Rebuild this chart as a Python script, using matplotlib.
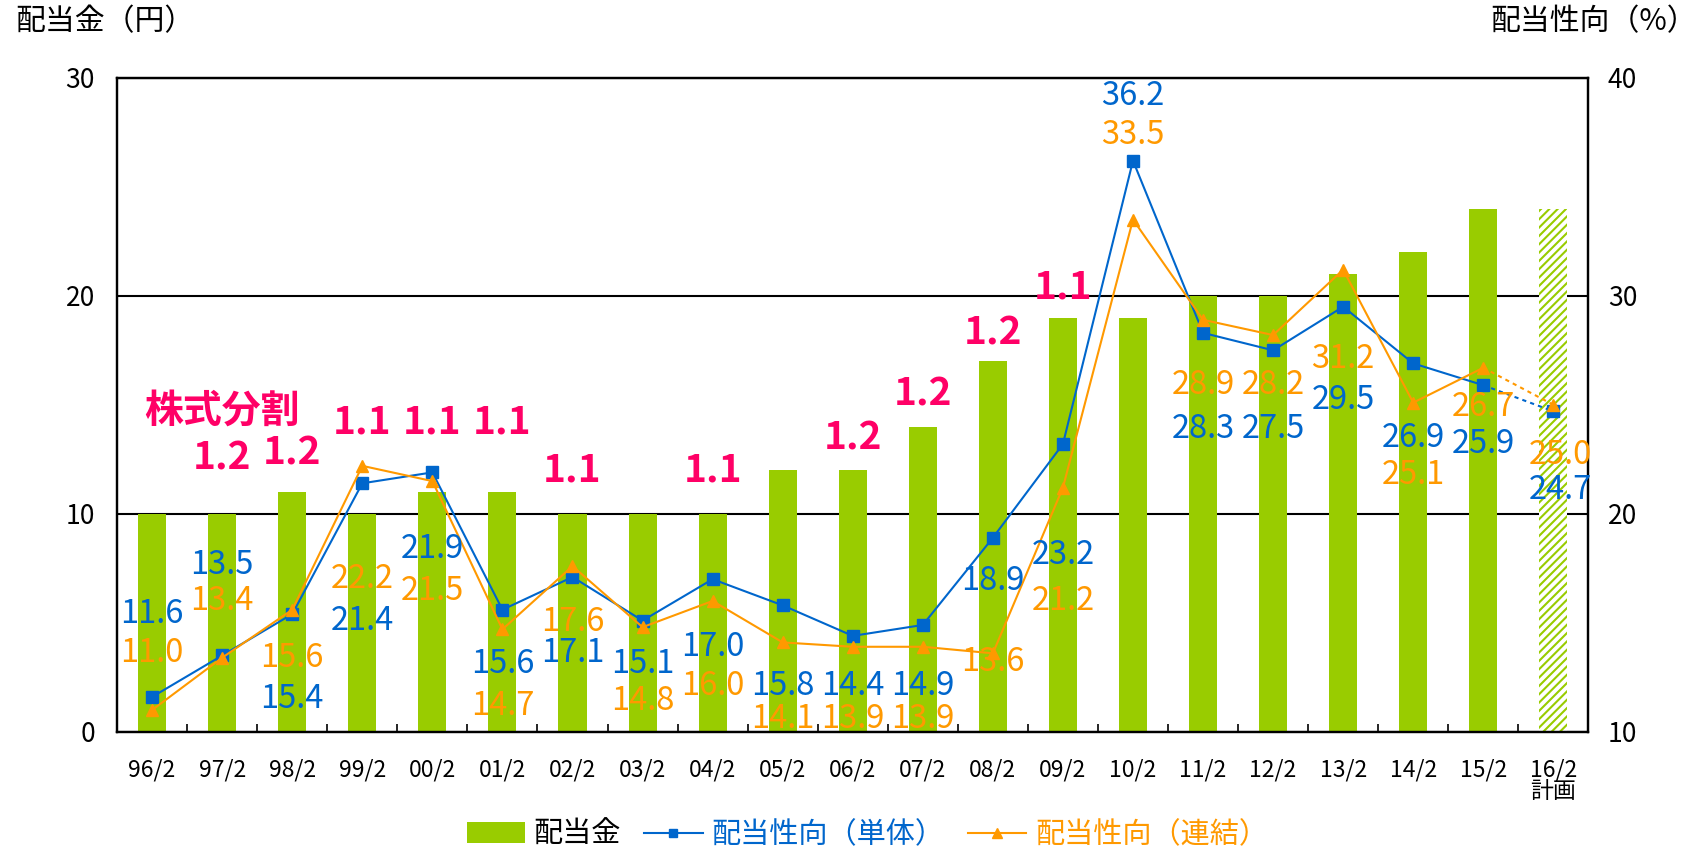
import numpy as np
import matplotlib
matplotlib.use('Agg')
import matplotlib.pyplot as plt
from matplotlib.patches import Patch
from matplotlib.lines import Line2D

plt.rcParams['font.family'] = ['Noto Sans CJK JP', 'DejaVu Sans']
plt.rcParams['hatch.linewidth'] = 1.5

# data
years = ['96/2', '97/2', '98/2', '99/2', '00/2', '01/2', '02/2', '03/2', '04/2', '05/2', '06/2',
         '07/2', '08/2', '09/2', '10/2', '11/2', '12/2', '13/2', '14/2', '15/2', '16/2\n計画']
dividend = [10, 10, 11, 10, 11, 11, 10, 10, 10, 12, 12, 14, 17, 19, 19, 20, 20, 21, 22, 24, 24]
payout_single = [11.6, 13.5, 15.4, 21.4, 21.9, 15.6, 17.1, 15.1, 17.0, 15.8, 14.4,
                 14.9, 18.9, 23.2, 36.2, 28.3, 27.5, 29.5, 26.9, 25.9, 24.7]
payout_consol = [11.0, 13.4, 15.6, 22.2, 21.5, 14.7, 17.6, 14.8, 16.0, 14.1, 13.9,
                 13.9, 13.6, 21.2, 33.5, 28.9, 28.2, 31.2, 25.1, 26.7, 25.0]
split_ratio = [None, 1.2, 1.2, 1.1, 1.1, 1.1, 1.1, None, 1.1, None, 1.2,
               1.2, 1.2, 1.1, None, None, None, None, None, None, None]

# label placement (right axis units for payout, left axis units for split)
single_lab_y = [15.4, 17.65, 11.5, 15.1, 18.4, 13.1, 13.6, 13.1, 13.9, 12.1, 12.1,
                12.1, 16.9, 18.1, 39.15, 23.9, 23.9, 25.2, 23.5, 23.2, 21.1]
consol_lab_y = [13.6, 16.0, 13.4, 17.0, 16.45, 11.2, 15.05, 11.4, 12.1, 10.6, 10.6,
                10.6, 13.2, 16.0, 37.4, 25.9, 25.9, 27.1, 21.8, 24.9, 22.7]
split_lab_y = [None, 12.55, 12.8, 14.2, 14.2, 14.2, 12.0, None, 12.0, None, 13.5,
               15.5, 18.3, 20.4, None, None, None, None, None, None, None]

green = '#99CC00'
blue = '#0066CC'
orange = '#FF9900'
pink = '#FF0066'

fig = plt.figure(figsize=(16.97, 8.65), dpi=100)
ax1 = fig.add_axes([0.069, 0.154, 0.867, 0.756])
ax2 = ax1.twinx()

x = np.arange(len(years))
n = len(years) - 1

ax1.bar(x[:n], dividend[:n], width=0.4, color=green, zorder=2)
ax1.bar(x[n:], dividend[n:], width=0.4, facecolor='white', edgecolor=green,
        hatch='////', linewidth=0, zorder=2)

ax1.set_xlim(-0.5, len(years) - 0.5)
ax1.set_ylim(0, 30)
ax1.set_yticks([0, 10, 20, 30])
ax1.yaxis.grid(True, color='black', lw=1.5)
ax1.set_axisbelow(True)
ax1.set_xticks(x)
ax1.set_xticklabels(years, fontsize=16.5, linespacing=0.95)
ax1.set_xticks(np.arange(0.5, len(years) - 1, 1), minor=True)
ax1.tick_params(axis='x', which='major', length=0, pad=19)
ax1.tick_params(axis='x', which='minor', direction='in', length=6, width=1.2)
ax1.tick_params(axis='y', length=0, pad=16, labelsize=19)

ax2.set_ylim(10, 40)
ax2.set_yticks([10, 20, 30, 40])
ax2.tick_params(axis='y', length=0, pad=14, labelsize=19)

for a in (ax1, ax2):
    for s in a.spines.values():
        s.set_linewidth(1.6)

# lines
ax2.plot(x[:n], payout_single[:n], color=blue, lw=1.5, marker='s', ms=8, zorder=3)
ax2.plot(x[n - 1:], payout_single[n - 1:], color=blue, lw=1.5, ls=(0, (2, 2)), zorder=3)
ax2.plot(x[n:], payout_single[n:], color=blue, lw=0, marker='s', ms=8, zorder=3)
ax2.plot(x[:n], payout_consol[:n], color=orange, lw=1.5, marker='^', ms=9, zorder=4)
ax2.plot(x[n - 1:], payout_consol[n - 1:], color=orange, lw=1.5, ls=(0, (2, 2)), zorder=4)
ax2.plot(x[n:], payout_consol[n:], color=orange, lw=0, marker='^', ms=9, zorder=4)

# value labels
for i in range(len(years)):
    dx = 0.1 if i == n else 0
    ax2.text(x[i] + dx, single_lab_y[i], '%.1f' % payout_single[i], color=blue,
             fontsize=23.5, ha='center', va='center', zorder=6)
    ax2.text(x[i] + dx, consol_lab_y[i], '%.1f' % payout_consol[i], color=orange,
             fontsize=23.5, ha='center', va='center', zorder=6)
    if split_ratio[i] is not None:
        ax2.text(x[i], split_lab_y[i], '%.1f' % split_ratio[i], color=pink,
                 fontsize=28, fontweight='bold', ha='center', va='center',
                 transform=ax1.transData, zorder=6)

ax2.text(1.0, 14.7, '株式分割', color=pink, fontsize=28, fontweight='bold',
         ha='center', va='center', transform=ax1.transData, zorder=6)

# axis titles
fig.text(0.009, 0.975, '配当金（円）', fontsize=21.5, ha='left', va='center')
fig.text(1.0, 0.975, '配当性向（%）', fontsize=21.5, ha='right', va='center')

# legend
handles = [Patch(facecolor=green, edgecolor='none'),
           Line2D([], [], color=blue, lw=1.5, marker='s', ms=6),
           Line2D([], [], color=orange, lw=1.5, marker='^', ms=7)]
labels = ['配当金', '配当性向（単体）', '配当性向（連結）']
leg = fig.legend(handles, labels, loc='center', bbox_to_anchor=(0.511, 0.035), ncol=3,
                 frameon=False, fontsize=21, handlelength=2.0, handletextpad=0.3,
                 columnspacing=0.8)
for t, c in zip(leg.get_texts(), ['black', blue, orange]):
    t.set_color(c)

fig.savefig('out.png', dpi=100)
